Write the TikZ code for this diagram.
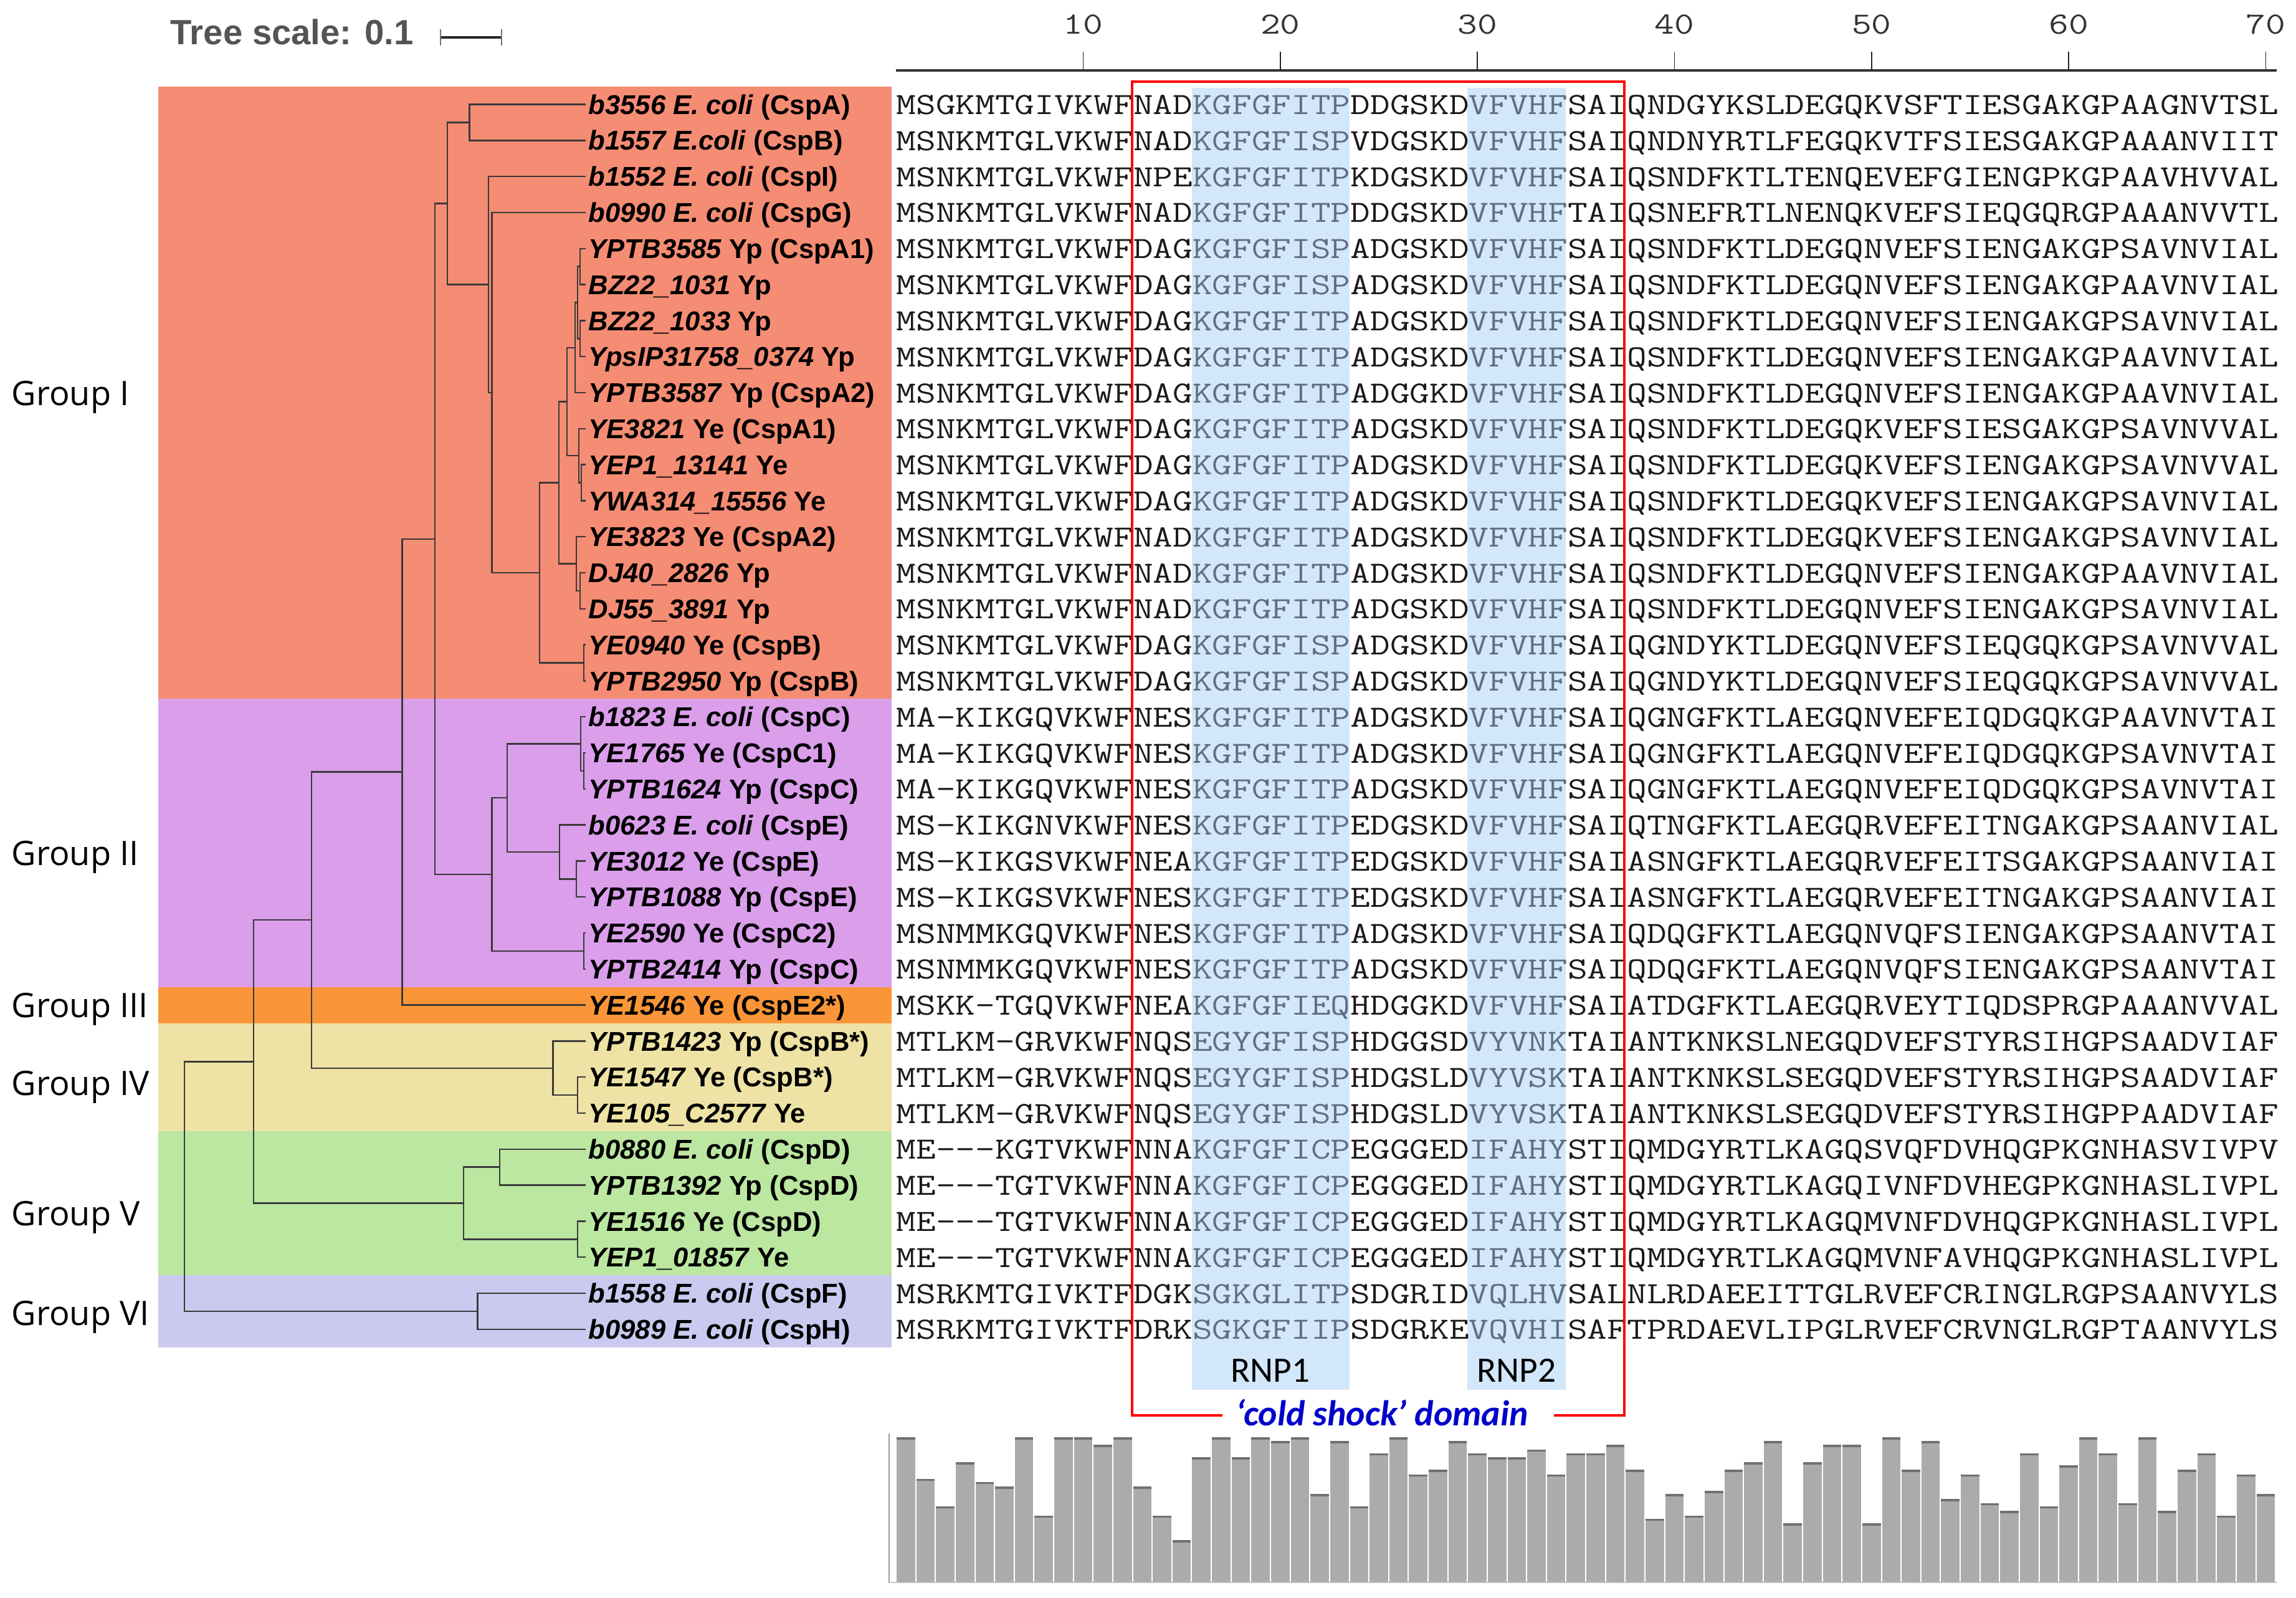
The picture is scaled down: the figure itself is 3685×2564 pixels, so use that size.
\documentclass[tikz,border=0pt]{standalone}
\usepackage{graphicx}
\usepackage{fontspec}
\setmainfont{Liberation Sans}
\newfontfamily\labfont{Liberation Sans}
\newfontfamily\grpfont{Open Sans}
\newfontfamily\calfont{Carlito}
\usetikzlibrary{calc}
\definecolor{grpI}{HTML}{F58C74}
\definecolor{grpII}{HTML}{DA9EEB}
\definecolor{grpIII}{HTML}{FA9638}
\definecolor{grpIV}{HTML}{EEE3A5}
\definecolor{grpV}{HTML}{BBE7A1}
\definecolor{grpVI}{HTML}{CACAF0}
\definecolor{rnpblue}{HTML}{D3E7FA}
\definecolor{rnptext}{HTML}{5F6F80}
\definecolor{seqtext}{HTML}{1A1A1A}
\definecolor{treeline}{HTML}{3A3A3A}
\definecolor{barfill}{HTML}{ABABAB}
\definecolor{barcap}{HTML}{707070}
\definecolor{csblue}{HTML}{0000CC}
\newcommand\mscale[1]{\scalebox{1.2411}[1]{#1}}
\newcommand\seqrow[6]{\node[seqrowstyle] (s#1) at (1438,{125.8+57.8*#1}) {\mscale{#2\textcolor{rnptext}{#3}#4\textcolor{rnptext}{#5}#6}};}
\newcommand\leaflab[2]{\node[leafstyle] (lab#1) at (944,{125.4+57.8*#1}) {#2};}
\newcommand\gp{\mbox{-}}
\begin{document}
\begin{tikzpicture}[x=0.01cm,y=-0.01cm,
  br/.style={draw=treeline,line width=0.7pt},
  leafstyle/.style={anchor=base west,inner sep=0pt,font=\labfont\bfseries\fontsize{12.4pt}{14pt}\selectfont},
  grpstyle/.style={anchor=base west,inner sep=0pt,font=\grpfont\fontsize{15.4pt}{18pt}\selectfont},
  seqrowstyle/.style={anchor=base west,inner sep=0pt,text=seqtext,font=\ttfamily\fontsize{14.1pt}{17pt}\selectfont},
  ticklab/.style={anchor=base,inner sep=0pt,text=black!80,font=\ttfamily\fontsize{14.1pt}{16pt}\selectfont},
  rnplab/.style={anchor=base,inner sep=0pt,font=\calfont\fontsize{16.3pt}{18pt}\selectfont},
]
\useasboundingbox (0,0) rectangle (3685,2564);

% ---------- group bands ----------
\fill[grpI]   (254,138.7) rectangle (1431,1121.3);
\fill[grpII]  (254,1121.3) rectangle (1431,1583.7);
\fill[grpIII] (254,1583.7) rectangle (1431,1641.5);
\fill[grpIV]  (254,1641.5) rectangle (1431,1814.9);
\fill[grpV]   (254,1814.9) rectangle (1431,2046.1);
\fill[grpVI]  (254,2046.1) rectangle (1431,2161.7);

% ---------- group labels ----------
\node[grpstyle] (g1) at (18,650) {Group I};
\node[grpstyle] (g2) at (18,1388) {Group II};
\node[grpstyle] (g3) at (18,1632) {Group III};
\node[grpstyle] (g4) at (18,1757) {Group IV};
\node[grpstyle] (g5) at (18,1966) {Group V};
\node[grpstyle] (g6) at (18,2126) {Group VI};

% ---------- tree scale ----------
\node[anchor=base west,inner sep=0pt,text=black!67,font=\labfont\bfseries\fontsize{16pt}{18pt}\selectfont] (tscale) at (273,72) {Tree scale: 0.1};
\coordinate (sb1) at (707,60);
\coordinate (sb2) at (805,60);
\draw[line width=1pt,black!85] (sb1) -- (sb2);
\draw[line width=0.4pt,black!55] (707,47) -- (707,73) (805,47) -- (805,73);

% ---------- tree ----------
\foreach \k in {1,...,35} \coordinate (t\k) at (940,{109.8+57.8*\k});
\coordinate (nA) at (753.6,196.5);
\coordinate (nP1) at (931,427.7);
\coordinate (nP2) at (931,543.3);
\coordinate (nK) at (927,485.5);
\coordinate (nI) at (923,557.75);
\coordinate (nYW) at (933,774.5);
\coordinate (nJ) at (929,731.15);
\coordinate (nG) at (910,644.45);
\coordinate (nDJ) at (931,947.9);
\coordinate (nH) at (925,904.55);
\coordinate (nF) at (897,774.5);
\coordinate (nYB) at (937,1063.5);
\coordinate (nE) at (866,919);
\coordinate (nD) at (789.5,630);
\coordinate (nC) at (784,456.6);
\coordinate (nB) at (718,326.55);
\coordinate (nC1b) at (937,1236.9);
\coordinate (nC1) at (932,1193.55);
\coordinate (nE2) at (925,1410.3);
\coordinate (nP) at (898,1366.95);
\coordinate (nO) at (814,1280.25);
\coordinate (nYC2) at (937,1525.9);
\coordinate (nN) at (789.5,1403.1);
\coordinate (nL) at (698,864.8);
\coordinate (nM) at (645.7,1238.7);
\coordinate (nR2) at (927,1757.1);
\coordinate (nR) at (887.5,1713.75);
\coordinate (nQ) at (500,1476.2);
\coordinate (nT1) at (801.8,1872.7);
\coordinate (nT2) at (927,1988.3);
\coordinate (nT) at (744,1930.5);
\coordinate (nS) at (407,1703.35);
\coordinate (nU) at (766.6,2103.9);
\coordinate (nRoot) at (296,1903.6);

\draw[br] (t1) -| (nA) |- (t2);
\draw[br] (nA) -| (nB) |- (nC);
\draw[br] (t3) -| (nC) |- (nD);
\draw[br] (t4) -| (nD) |- (nE);
\draw[br] (nF) -| (nE) |- (nYB);
\draw[br] (t16) -| (nYB) |- (t17);
\draw[br] (nG) -| (nF) |- (nH);
\draw[br] (t13) -| (nH) |- (nDJ);
\draw[br] (t14) -| (nDJ) |- (t15);
\draw[br] (nI) -| (nG) |- (nJ);
\draw[br] (t10) -| (nJ) |- (nYW);
\draw[br] (t11) -| (nYW) |- (t12);
\draw[br] (nK) -| (nI) |- (t9);
\draw[br] (nP1) -| (nK) |- (nP2);
\draw[br] (t5) -| (nP1) |- (t6);
\draw[br] (t7) -| (nP2) |- (t8);
\draw[br] (nB) -| (nL) |- (nN);
\draw[br] (nO) -| (nN) |- (nYC2);
\draw[br] (t24) -| (nYC2) |- (t25);
\draw[br] (nC1) -| (nO) |- (nP);
\draw[br] (t18) -| (nC1) |- (nC1b);
\draw[br] (t19) -| (nC1b) |- (t20);
\draw[br] (t21) -| (nP) |- (nE2);
\draw[br] (t22) -| (nE2) |- (t23);
\draw[br] (nL) -| (nM) |- (t26);
\draw[br] (nM) -| (nQ) |- (nR);
\draw[br] (t27) -| (nR) |- (nR2);
\draw[br] (t28) -| (nR2) |- (t29);
\draw[br] (nQ) -| (nS) |- (nT);
\draw[br] (nT1) -| (nT) |- (nT2);
\draw[br] (t30) -| (nT1) |- (t31);
\draw[br] (t32) -| (nT2) |- (t33);
\draw[br] (nS) -| (nRoot) |- (nU);
\draw[br] (t34) -| (nU) |- (t35);

% ---------- leaf labels ----------
\leaflab{1}{\textit{b3556 E. coli} (CspA)}
\leaflab{2}{\textit{b1557 E.coli} (CspB)}
\leaflab{3}{\textit{b1552 E. coli} (CspI)}
\leaflab{4}{\textit{b0990 E. coli} (CspG)}
\leaflab{5}{\textit{YPTB3585} Yp (CspA1)}
\leaflab{6}{\textit{BZ22\_1031} Yp}
\leaflab{7}{\textit{BZ22\_1033} Yp}
\leaflab{8}{\textit{YpsIP31758\_0374} Yp}
\leaflab{9}{\textit{YPTB3587} Yp (CspA2)}
\leaflab{10}{\textit{YE3821} Ye (CspA1)}
\leaflab{11}{\textit{YEP1\_13141} Ye}
\leaflab{12}{\textit{YWA314\_15556} Ye}
\leaflab{13}{\textit{YE3823} Ye (CspA2)}
\leaflab{14}{\textit{DJ40\_2826} Yp}
\leaflab{15}{\textit{DJ55\_3891} Yp}
\leaflab{16}{\textit{YE0940} Ye (CspB)}
\leaflab{17}{\textit{YPTB2950} Yp (CspB)}
\leaflab{18}{\textit{b1823 E. coli} (CspC)}
\leaflab{19}{\textit{YE1765} Ye (CspC1)}
\leaflab{20}{\textit{YPTB1624} Yp (CspC)}
\leaflab{21}{\textit{b0623 E. coli} (CspE)}
\leaflab{22}{\textit{YE3012} Ye (CspE)}
\leaflab{23}{\textit{YPTB1088} Yp (CspE)}
\leaflab{24}{\textit{YE2590} Ye (CspC2)}
\leaflab{25}{\textit{YPTB2414} Yp (CspC)}
\leaflab{26}{\textit{YE1546} Ye (CspE2*)}
\leaflab{27}{\textit{YPTB1423} Yp (CspB*)}
\leaflab{28}{\textit{YE1547} Ye (CspB*)}
\leaflab{29}{\textit{YE105\_C2577} Ye}
\leaflab{30}{\textit{b0880 E. coli} (CspD)}
\leaflab{31}{\textit{YPTB1392} Yp (CspD)}
\leaflab{32}{\textit{YE1516} Ye (CspD)}
\leaflab{33}{\textit{YEP1\_01857} Ye}
\leaflab{34}{\textit{b1558 E. coli} (CspF)}
\leaflab{35}{\textit{b0989 E. coli} (CspH)}

% ---------- RNP highlight columns ----------
\fill[rnpblue] (1912.5,141) rectangle (2165.5,2230);
\fill[rnpblue] (2355.3,141) rectangle (2513.4,2230);
\node[rnplab] (rnp1) at (2039,2217) {RNP1};
\node[rnplab] (rnp2) at (2434,2217) {RNP2};

% ---------- ruler ----------
\draw[line width=0.9pt,black!80] (1438,113) -- (3654,113);
\foreach \n in {10,20,...,70} {
  \draw[line width=0.45pt,black!85] ({1438+(\n-0.5)*31.63},83) -- ({1438+(\n-0.5)*31.63},113);
  \node[ticklab] (tl\n) at ({1438+(\n-0.5)*31.63},55) {\mscale{\n}};
}

% ---------- alignment ----------
\seqrow{1}{MSGKMTGIVKWFNAD}{KGFGFITP}{DDGSKD}{VFVHF}{SAIQNDGYKSLDEGQKVSFTIESGAKGPAAGNVTSL}
\seqrow{2}{MSNKMTGLVKWFNAD}{KGFGFISP}{VDGSKD}{VFVHF}{SAIQNDNYRTLFEGQKVTFSIESGAKGPAAANVIIT}
\seqrow{3}{MSNKMTGLVKWFNPE}{KGFGFITP}{KDGSKD}{VFVHF}{SAIQSNDFKTLTENQEVEFGIENGPKGPAAVHVVAL}
\seqrow{4}{MSNKMTGLVKWFNAD}{KGFGFITP}{DDGSKD}{VFVHF}{TAIQSNEFRTLNENQKVEFSIEQGQRGPAAANVVTL}
\seqrow{5}{MSNKMTGLVKWFDAG}{KGFGFISP}{ADGSKD}{VFVHF}{SAIQSNDFKTLDEGQNVEFSIENGAKGPSAVNVIAL}
\seqrow{6}{MSNKMTGLVKWFDAG}{KGFGFISP}{ADGSKD}{VFVHF}{SAIQSNDFKTLDEGQNVEFSIENGAKGPAAVNVIAL}
\seqrow{7}{MSNKMTGLVKWFDAG}{KGFGFITP}{ADGSKD}{VFVHF}{SAIQSNDFKTLDEGQNVEFSIENGAKGPSAVNVIAL}
\seqrow{8}{MSNKMTGLVKWFDAG}{KGFGFITP}{ADGSKD}{VFVHF}{SAIQSNDFKTLDEGQNVEFSIENGAKGPAAVNVIAL}
\seqrow{9}{MSNKMTGLVKWFDAG}{KGFGFITP}{ADGGKD}{VFVHF}{SAIQSNDFKTLDEGQNVEFSIENGAKGPAAVNVIAL}
\seqrow{10}{MSNKMTGLVKWFDAG}{KGFGFITP}{ADGSKD}{VFVHF}{SAIQSNDFKTLDEGQKVEFSIESGAKGPSAVNVVAL}
\seqrow{11}{MSNKMTGLVKWFDAG}{KGFGFITP}{ADGSKD}{VFVHF}{SAIQSNDFKTLDEGQKVEFSIENGAKGPSAVNVVAL}
\seqrow{12}{MSNKMTGLVKWFDAG}{KGFGFITP}{ADGSKD}{VFVHF}{SAIQSNDFKTLDEGQKVEFSIENGAKGPSAVNVIAL}
\seqrow{13}{MSNKMTGLVKWFNAD}{KGFGFITP}{ADGSKD}{VFVHF}{SAIQSNDFKTLDEGQKVEFSIENGAKGPSAVNVIAL}
\seqrow{14}{MSNKMTGLVKWFNAD}{KGFGFITP}{ADGSKD}{VFVHF}{SAIQSNDFKTLDEGQNVEFSIENGAKGPAAVNVIAL}
\seqrow{15}{MSNKMTGLVKWFNAD}{KGFGFITP}{ADGSKD}{VFVHF}{SAIQSNDFKTLDEGQNVEFSIENGAKGPSAVNVIAL}
\seqrow{16}{MSNKMTGLVKWFDAG}{KGFGFISP}{ADGSKD}{VFVHF}{SAIQGNDYKTLDEGQNVEFSIEQGQKGPSAVNVVAL}
\seqrow{17}{MSNKMTGLVKWFDAG}{KGFGFISP}{ADGSKD}{VFVHF}{SAIQGNDYKTLDEGQNVEFSIEQGQKGPSAVNVVAL}
\seqrow{18}{MA\gp KIKGQVKWFNES}{KGFGFITP}{ADGSKD}{VFVHF}{SAIQGNGFKTLAEGQNVEFEIQDGQKGPAAVNVTAI}
\seqrow{19}{MA\gp KIKGQVKWFNES}{KGFGFITP}{ADGSKD}{VFVHF}{SAIQGNGFKTLAEGQNVEFEIQDGQKGPSAVNVTAI}
\seqrow{20}{MA\gp KIKGQVKWFNES}{KGFGFITP}{ADGSKD}{VFVHF}{SAIQGNGFKTLAEGQNVEFEIQDGQKGPSAVNVTAI}
\seqrow{21}{MS\gp KIKGNVKWFNES}{KGFGFITP}{EDGSKD}{VFVHF}{SAIQTNGFKTLAEGQRVEFEITNGAKGPSAANVIAL}
\seqrow{22}{MS\gp KIKGSVKWFNEA}{KGFGFITP}{EDGSKD}{VFVHF}{SAIASNGFKTLAEGQRVEFEITSGAKGPSAANVIAI}
\seqrow{23}{MS\gp KIKGSVKWFNES}{KGFGFITP}{EDGSKD}{VFVHF}{SAIASNGFKTLAEGQRVEFEITNGAKGPSAANVIAI}
\seqrow{24}{MSNMMKGQVKWFNES}{KGFGFITP}{ADGSKD}{VFVHF}{SAIQDQGFKTLAEGQNVQFSIENGAKGPSAANVTAI}
\seqrow{25}{MSNMMKGQVKWFNES}{KGFGFITP}{ADGSKD}{VFVHF}{SAIQDQGFKTLAEGQNVQFSIENGAKGPSAANVTAI}
\seqrow{26}{MSKK\gp TGQVKWFNEA}{KGFGFIEQ}{HDGGKD}{VFVHF}{SAIATDGFKTLAEGQRVEYTIQDSPRGPAAANVVAL}
\seqrow{27}{MTLKM\gp GRVKWFNQS}{EGYGFISP}{HDGGSD}{VYVNK}{TAIANTKNKSLNEGQDVEFSTYRSIHGPSAADVIAF}
\seqrow{28}{MTLKM\gp GRVKWFNQS}{EGYGFISP}{HDGSLD}{VYVSK}{TAIANTKNKSLSEGQDVEFSTYRSIHGPSAADVIAF}
\seqrow{29}{MTLKM\gp GRVKWFNQS}{EGYGFISP}{HDGSLD}{VYVSK}{TAIANTKNKSLSEGQDVEFSTYRSIHGPPAADVIAF}
\seqrow{30}{ME\gp\gp\gp KGTVKWFNNA}{KGFGFICP}{EGGGED}{IFAHY}{STIQMDGYRTLKAGQSVQFDVHQGPKGNHASVIVPV}
\seqrow{31}{ME\gp\gp\gp TGTVKWFNNA}{KGFGFICP}{EGGGED}{IFAHY}{STIQMDGYRTLKAGQIVNFDVHEGPKGNHASLIVPL}
\seqrow{32}{ME\gp\gp\gp TGTVKWFNNA}{KGFGFICP}{EGGGED}{IFAHY}{STIQMDGYRTLKAGQMVNFDVHQGPKGNHASLIVPL}
\seqrow{33}{ME\gp\gp\gp TGTVKWFNNA}{KGFGFICP}{EGGGED}{IFAHY}{STIQMDGYRTLKAGQMVNFAVHQGPKGNHASLIVPL}
\seqrow{34}{MSRKMTGIVKTFDGK}{SGKGLITP}{SDGRID}{VQLHV}{SALNLRDAEEITTGLRVEFCRINGLRGPSAANVYLS}
\seqrow{35}{MSRKMTGIVKTFDRK}{SGKGFIIP}{SDGRKE}{VQVHI}{SAFTPRDAEVLIPGLRVEFCRVNGLRGPTAANVYLS}

% ---------- cold shock domain box ----------
\node[anchor=base,inner sep=0pt,text=csblue,font=\calfont\bfseries\itshape\fontsize{16.4pt}{18pt}\selectfont] (cs) at (2218,2287) {‘cold shock’ domain};
\coordinate (cs1) at (1962,2271);
\coordinate (cs2) at (2494,2271);
\draw[red,line width=0.9pt] (cs1) -- (1817,2271) -- (1817,131) -- (2607,131) -- (2607,2271) -- (cs2);

% ---------- conservation bars ----------
\foreach \v [count=\i] in {468,668,800,588,683,705,468,845,468,468,505,468,705,845,963,565,468,565,468,487,468,742,487,800,545,468,647,625,487,545,565,565,527,647,545,545,505,625,860,742,845,727,625,588,487,883,588,505,505,883,468,625,487,765,647,785,823,545,800,603,468,545,785,468,823,625,545,845,647,742} {
  \fill[barfill] ({1438+(\i-1)*31.63+1},{2150+\v/3}) rectangle ({1438+\i*31.63-1},2538);
  \fill[barcap] ({1438+(\i-1)*31.63+1},{2150+\v/3}) rectangle ({1438+\i*31.63-1},{2153.5+\v/3});
}
\draw[line width=0.6pt,black!25] (1430,2539) -- (3654,2539);
\draw[line width=0.4pt,black!40] (1427,2300) -- (1427,2540);
\end{tikzpicture}
\end{document}
